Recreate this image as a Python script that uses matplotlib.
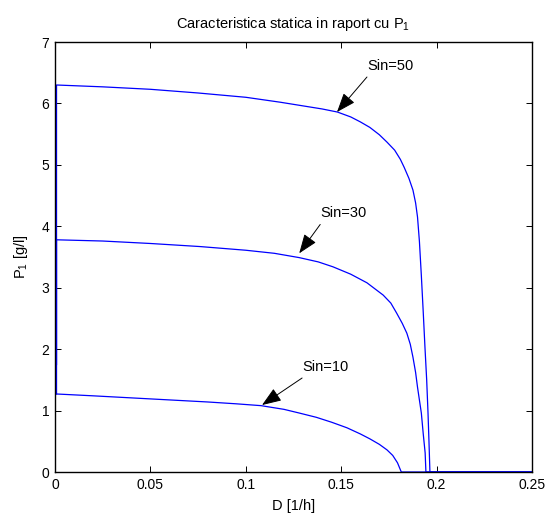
import matplotlib
matplotlib.use("Agg")
import matplotlib.pyplot as plt

plt.rcParams['font.family'] = ['Liberation Sans', 'DejaVu Sans']
plt.rcParams['mathtext.fontset'] = 'custom'
plt.rcParams['mathtext.rm'] = 'Liberation Sans'
plt.rcParams['mathtext.it'] = 'Liberation Sans'
plt.rcParams['mathtext.default'] = 'regular'

# Steady-state product concentration vs dilution rate for three feed concentrations
D_sin50 = [0.0008, 0.0008, 0.025, 0.05, 0.075, 0.10, 0.118, 0.13, 0.14, 0.148, 0.155,
           0.16, 0.165, 0.17, 0.174, 0.178, 0.181, 0.183, 0.1855, 0.1876, 0.189,
           0.190, 0.191, 0.192, 0.193, 0.1939, 0.1948, 0.1955, 0.196, 0.1965, 0.25]
P_sin50 = [1.75, 6.30, 6.27, 6.23, 6.17, 6.10, 6.02, 5.96, 5.91, 5.86, 5.78,
           5.70, 5.61, 5.49, 5.37, 5.24, 5.09, 4.96, 4.78, 4.59, 4.38,
           4.15, 3.75, 3.20, 2.60, 2.03, 1.50, 0.96, 0.50, 0.0, 0.0]

D_sin30 = [0.0008, 0.0008, 0.025, 0.05, 0.076, 0.10, 0.115, 0.128, 0.138, 0.1457, 0.155,
           0.1635, 0.172, 0.176, 0.179, 0.182, 0.1844, 0.1862, 0.1876, 0.189, 0.190,
           0.191, 0.192, 0.193, 0.194, 0.1944, 0.25]
P_sin30 = [1.27, 3.78, 3.76, 3.72, 3.67, 3.61, 3.56, 3.49, 3.42, 3.34, 3.22,
           3.08, 2.88, 2.75, 2.59, 2.42, 2.26, 2.08, 1.87, 1.62, 1.38,
           1.17, 0.96, 0.62, 0.31, 0.0, 0.0]

D_sin10 = [0.0008, 0.02, 0.05, 0.08, 0.095, 0.108, 0.12, 0.128, 0.137, 0.145, 0.153,
           0.16, 0.165, 0.17, 0.174, 0.177, 0.1795, 0.1815, 0.25]
P_sin10 = [1.27, 1.24, 1.19, 1.14, 1.11, 1.08, 1.02, 0.96, 0.89, 0.81, 0.72,
           0.62, 0.54, 0.45, 0.36, 0.27, 0.15, 0.0, 0.0]

# label text, arrow tail (text sits just above it), arrow tip
labels = ["Sin=50", "Sin=30", "Sin=10"]
tail_xy = [(0.1635, 6.43), (0.139, 4.03), (0.1295, 1.53)]
tip_xy = [(0.1478, 5.86), (0.128, 3.56), (0.1085, 1.09)]

x_ticks = [0, 0.05, 0.1, 0.15, 0.2, 0.25]
x_tick_labels = ["0", "0.05", "0.1", "0.15", "0.2", "0.25"]
y_ticks = [0, 1, 2, 3, 4, 5, 6, 7]

fig = plt.figure(figsize=(5.47, 5.14), dpi=100)
ax = fig.add_axes([55 / 547, 42 / 514, 477 / 547, 430 / 514])

for D, P in [(D_sin50, P_sin50), (D_sin30, P_sin30), (D_sin10, P_sin10)]:
    ax.plot(D, P, color=(0, 0, 1), lw=0.9)

for text, (tx, ty), (hx, hy) in zip(labels, tail_xy, tip_xy):
    ax.annotate("", xy=(hx, hy), xytext=(tx, ty),
                arrowprops=dict(arrowstyle='-|>,head_length=0.85,head_width=0.32',
                                color='black', lw=0.7, shrinkA=0, shrinkB=0,
                                mutation_scale=14))
    ax.text(tx + 0.0003, ty + 0.07, text, fontsize=10.5, ha='left', va='bottom')

ax.set_xlim(0, 0.25)
ax.set_ylim(0, 7)
ax.set_xticks(x_ticks)
ax.set_xticklabels(x_tick_labels)
ax.set_yticks(y_ticks)
ax.tick_params(direction='in', length=4, width=0.7, top=True, right=True,
               labelsize=10, pad=4)
for s in ax.spines.values():
    s.set_linewidth(1.0)

ax.set_title("Caracteristica statica in raport cu P$_1$", fontsize=10.5, pad=10)
ax.set_xlabel("D [1/h]", fontsize=10.5, labelpad=5.5)
ax.set_ylabel("P$_1$ [g/l]", fontsize=10.5, labelpad=8)

fig.savefig("out.png", dpi=100)
